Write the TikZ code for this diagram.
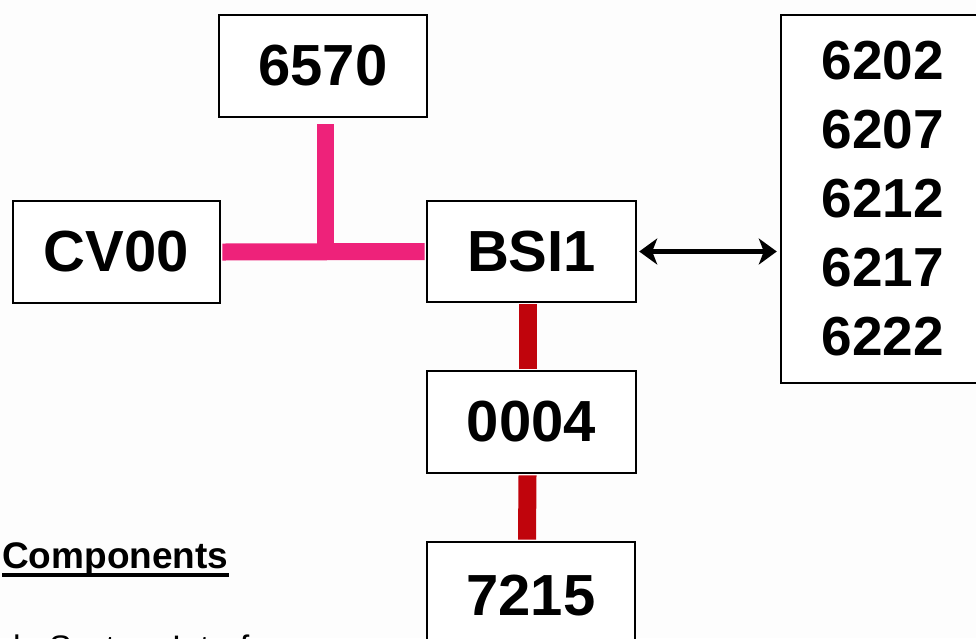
\documentclass[tikz,border=0pt]{standalone}
\usepackage{fontspec}
\setmainfont{Liberation Sans}
\usetikzlibrary{arrows.meta}
\definecolor{pinkbus}{RGB}{238,34,122}
\definecolor{redbus}{RGB}{192,4,12}
\definecolor{bgcol}{RGB}{253,253,253}
\tikzset{
  box/.style={draw=black, line width=2.4pt, fill=white, inner sep=0pt,
    minimum width=208pt, minimum height=102pt,
    font=\fontsize{58}{58}\selectfont\bfseries},
  bigbox/.style={draw=black, line width=2.4pt, fill=white, inner sep=0pt,
    minimum width=204pt, minimum height=368pt, align=center,
    font=\fontsize{55}{69}\selectfont\bfseries},
  pinkline/.style={draw=pinkbus, line width=17pt, line cap=butt},
  redline/.style={draw=redbus, line width=18pt, line cap=butt},
  biarrow/.style={draw=black, line width=5.5pt,
    {Stealth[length=18pt,width=26pt,inset=5pt]}-{Stealth[length=18pt,width=26pt,inset=5pt]}},
  headtext/.style={inner sep=0pt, font=\fontsize{37}{37}\selectfont\bfseries},
  bodytext/.style={inner sep=0pt, font=\fontsize{34}{34}\selectfont}
}
\begin{document}
\begin{tikzpicture}[x=1pt,y=-1pt]
\path[use as bounding box, clip] (0,0) rectangle (976,638);
\fill[bgcol] (0,0) rectangle (976,638);

\node[box, minimum width=208pt] (n6570) at (323,66) {6570};
\node[box, minimum width=207pt] (cv) at (116.5,252) {CV00};
\node[box, minimum width=209pt, minimum height=101pt] (bsi) at (531.5,251.5) {BSI1};
\node[box, minimum width=209pt] (n0004) at (531.5,422) {0004};
\node[box, minimum width=208pt, minimum height=108pt] (n7215) at (531,596) {7215};
\node[bigbox] (rbox) at (883,199) {6202\\6207\\6212\\6217\\6222};

\draw[pinkline] ([xshift=1.2pt]cv.east) -- ([xshift=-1.2pt]bsi.west);
\coordinate (tj) at ([xshift=2pt]n6570.south |- cv.east);
\draw[pinkline] ([xshift=2pt,yshift=-6pt]n6570.south) -- (tj);

\draw[redline] ([xshift=-4pt,yshift=-1.2pt]bsi.south) -- ([xshift=-4pt,yshift=1.2pt]n0004.north);
\draw[redline] ([xshift=-4pt,yshift=-1.2pt]n0004.south) -- ([xshift=-4pt,yshift=1.2pt]n7215.north);

\draw[biarrow] ([xshift=2pt]bsi.east) -- ([xshift=-3pt]rbox.west |- bsi.east);

\node[headtext, anchor=base west] (comp) at (2,568) {Components};
\draw[line width=3.6pt] ([yshift=-7pt]comp.base west) -- ([yshift=-7pt]comp.base east);

\node[bodytext, anchor=base west] (intf) at (13,659) {le System Interface};
\end{tikzpicture}
\end{document}
